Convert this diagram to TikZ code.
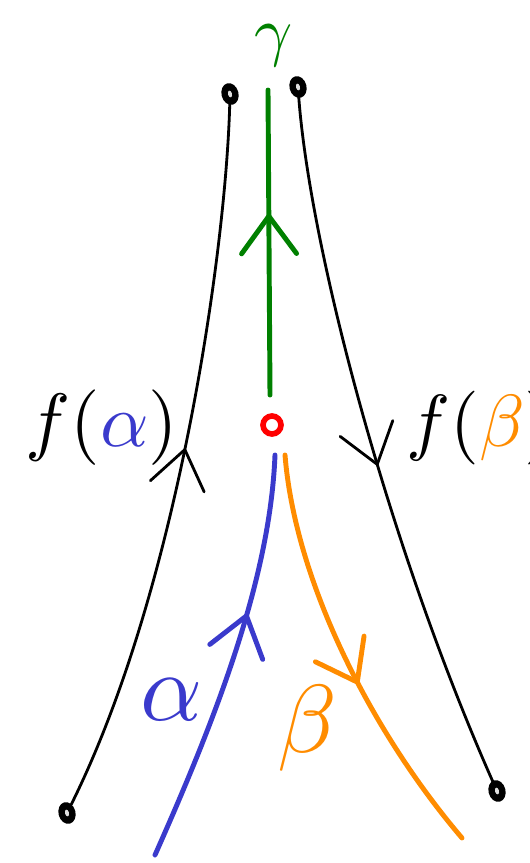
\documentclass[tikz,border=0pt]{standalone}
\usetikzlibrary{decorations.markings,arrows.meta}
\definecolor{pblue}{RGB}{58,58,204}
\definecolor{porange}{RGB}{255,140,0}
\definecolor{pgreen}{RGB}{0,128,0}
\begin{document}
\begin{tikzpicture}[x=0.02cm,y=-0.02cm,
  blk/.style={line width=1.6pt,black,line cap=round},
  thk/.style={line width=2.8pt,line cap=round},
  chev/.style={postaction={decorate},decoration={markings,
     mark=at position #1 with {\arrow{Straight Barb[length=7.5mm,width=11mm,line cap=round]}}}},
  enddot/.style={circle,inner sep=0pt,minimum size=0.36cm},
  crit/.style={circle,draw=red,line width=3.2pt,fill=white,inner sep=0pt,minimum size=0.36cm},
  lab/.style={inner sep=0pt}
]
\useasboundingbox (0,0) rectangle (530,863);
% end points
\node[enddot] (lb) at (67,813) {};
\node[enddot] (lt) at (230,94) {};
\node[enddot] (rt) at (298,87) {};
\node[enddot] (rb) at (497,791) {};
\foreach \d in {lb,lt,rt,rb}{
  \fill[black,rotate around={15:(\d.center)}] (\d.center) ellipse (8.5 and 11);
  \fill[white!75!gray,rotate around={15:(\d.center)}] (\d.center) ellipse (2 and 3.5);
}
\node[crit] (p) at (272,425) {};
\coordinate (gb) at (270,395);
\coordinate (gt) at (268,90);
\coordinate (bb) at (155,855);
\coordinate (bt) at (275,455);
\coordinate (ot) at (285,455);
\coordinate (ob) at (462,838);
% curves
\draw[blk,chev=0.52] (lb) .. controls (178,590) and (226,250) .. (lt);
\draw[blk,chev=0.53] (rt) .. controls (310,250) and (390,550) .. (rb);
\draw[thk,pgreen,chev=0.6] (gb) -- (gt);
\draw[thk,pblue,chev=0.62] (bb) .. controls (215,720) and (270,580) .. (bt);
\draw[thk,porange,chev=0.57] (ot) .. controls (295,580) and (370,730) .. (ob);
% labels
\node[lab,text=pgreen] (gl) at (274,46) {\scalebox{3.8}{$\gamma$}};
\node[lab] (fa) at (102,428) {\scalebox{4.3}{$f(\textcolor{pblue}{\alpha})$}};
\node[lab] (fb) at (480,428) {\scalebox{4.2}{$f(\textcolor{porange}{\beta})$}};
\node[lab,text=pblue] (al) at (172,700) {\scalebox{5.5}{$\alpha$}};
\node[lab,text=porange] (be) at (307,728) {\scalebox{5.5}{$\beta$}};
\end{tikzpicture}
\end{document}
